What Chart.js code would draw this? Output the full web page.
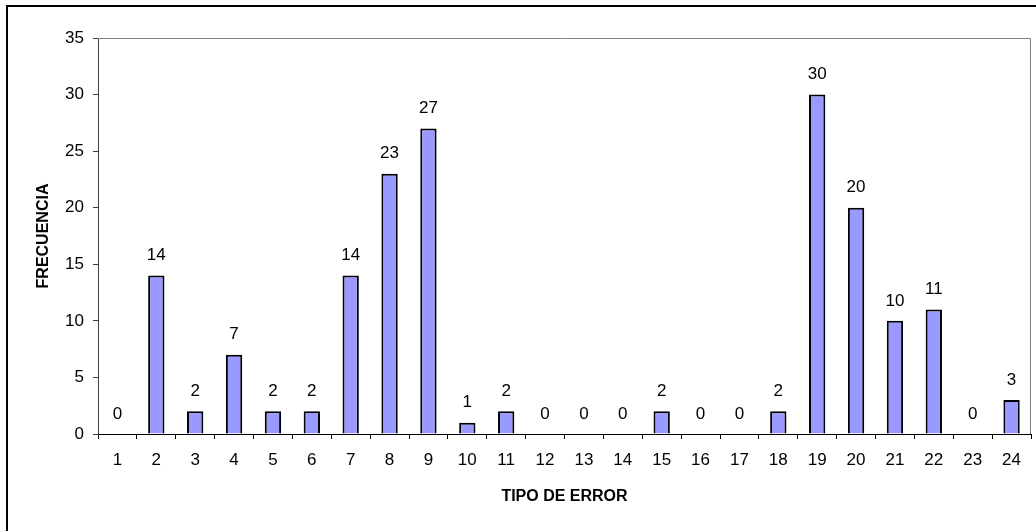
<!DOCTYPE html>
<html>
<head>
<meta charset="utf-8">
<script src="https://cdn.jsdelivr.net/npm/chart.js@4.4.1/dist/chart.umd.min.js"></script>
<style>
  html, body { margin: 0; padding: 0; background: #fff; overflow: hidden; }
  #wrap { position: relative; width: 1036px; height: 531px; }
  #marco { position: absolute; left: 6px; top: 5px; width: 1100px; height: 600px; border: 2px solid #000; box-sizing: border-box; }
  canvas { position: absolute; left: 0; top: 0; }
</style>
</head>
<body>
<div id="wrap">
  <div id="marco"></div>
  <canvas id="chart" width="1036" height="531"></canvas>
</div>
<script>
// datos
const tiposError = ['1','2','3','4','5','6','7','8','9','10','11','12','13','14','15','16','17','18','19','20','21','22','23','24'];
const frecuencias = [0, 14, 2, 7, 2, 2, 14, 23, 27, 1, 2, 0, 0, 0, 2, 0, 0, 2, 30, 20, 10, 11, 0, 3];
const ticksY = [0, 5, 10, 15, 20, 25, 30, 35];

const fuente = "'Liberation Sans', Arial, sans-serif";

// etiquetas de valor encima de cada barra
const etiquetas = {
  id: 'etiquetas',
  afterDatasetsDraw(chart) {
    const ctx = chart.ctx;
    const meta = chart.getDatasetMeta(0);
    ctx.save();
    ctx.font = '17px ' + fuente;
    ctx.fillStyle = '#000';
    ctx.textAlign = 'center';
    ctx.textBaseline = 'middle';
    meta.data.forEach(function(bar, i) {
      ctx.fillText(String(frecuencias[i]), bar.x, bar.y - 20);
    });
    ctx.restore();
  }
};

// borde gris del area de trazado (arriba y derecha)
const bordeArea = {
  id: 'bordeArea',
  beforeDatasetsDraw(chart) {
    const a = chart.chartArea;
    const ctx = chart.ctx;
    ctx.save();
    ctx.strokeStyle = '#808080';
    ctx.lineWidth = 1;
    ctx.beginPath();
    ctx.moveTo(a.left, a.top + 0.5);
    ctx.lineTo(a.right - 0.5, a.top + 0.5);
    ctx.lineTo(a.right - 0.5, a.bottom);
    ctx.stroke();
    ctx.restore();
  }
};

const ctx = document.getElementById('chart').getContext('2d');
new Chart(ctx, {
  type: 'bar',
  data: {
    labels: tiposError,
    datasets: [{
      data: frecuencias,
      backgroundColor: '#9999FF',
      borderColor: '#000000',
      borderWidth: 2,
      barPercentage: 0.42,
      categoryPercentage: 1
    }]
  },
  options: {
    responsive: false,
    animation: false,
    layout: { padding: { top: 38, right: 5, left: 0, bottom: 0 } },
    plugins: {
      legend: { display: false },
      tooltip: { enabled: false }
    },
    scales: {
      x: {
        grid: { drawOnChartArea: false, drawTicks: true, tickLength: 5, color: '#000', offset: true },
        border: { display: true, color: '#000', width: 1 },
        ticks: { color: '#000', font: { family: fuente, size: 17 }, padding: 11, maxRotation: 0, autoSkip: false },
        title: { display: true, text: 'TIPO DE ERROR', color: '#000', font: { family: fuente, size: 16, weight: 'bold' }, padding: { top: 0, bottom: 25 } },
        afterFit(scale) { scale.height = 97; }
      },
      y: {
        min: 0,
        max: 35,
        afterBuildTicks(scale) { scale.ticks = ticksY.map(v => ({ value: v })); },
        grid: { drawOnChartArea: false, drawTicks: true, tickLength: 5, color: '#404040' },
        border: { display: true, color: '#404040', width: 1 },
        ticks: { color: '#000', font: { family: fuente, size: 17 }, padding: 9 },
        title: { display: true, text: 'FRECUENCIA', color: '#000', font: { family: fuente, size: 16, weight: 'bold' }, padding: { top: 34, bottom: 0 } },
        afterFit(scale) { scale.width = 98; }
      }
    }
  },
  plugins: [bordeArea, etiquetas]
});
</script>
</body>
</html>
